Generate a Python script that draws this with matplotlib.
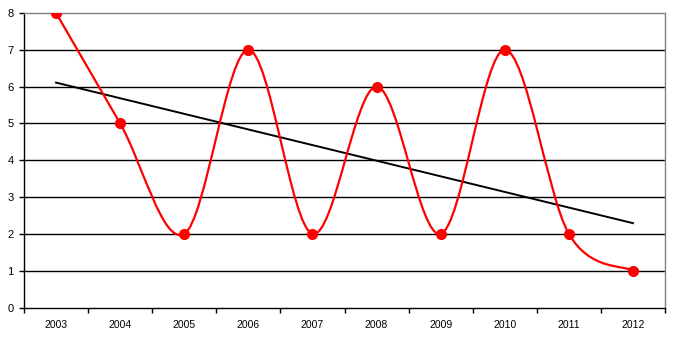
import matplotlib
matplotlib.use('Agg')
import matplotlib.pyplot as plt
from matplotlib.path import Path
from matplotlib.patches import PathPatch
import numpy as np

years = ['2003', '2004', '2005', '2006', '2007', '2008', '2009', '2010', '2011', '2012']
values = [8, 5, 2, 7, 2, 6, 2, 7, 2, 1]

plt.rcParams['font.family'] = ['Liberation Sans', 'DejaVu Sans']

xs = np.arange(len(years))
ys = np.array(values, dtype=float)

fig = plt.figure(figsize=(6.75, 3.4), dpi=100)
ax = fig.add_axes([24/675, 1 - 307.5/340, (665 - 24)/675, (307.5 - 13)/340])

# horizontal gridlines
for v in range(1, 8):
    ax.axhline(v, color='black', lw=1.0, zorder=1)

# smoothed line: cubic bezier segments, catmull-rom style tangents
pts = np.column_stack([xs, ys])
ext = np.vstack([pts[0], pts, pts[-1]])
verts = [tuple(pts[0])]
codes = [Path.MOVETO]
for i in range(len(pts) - 1):
    p0, p1, p2, p3 = ext[i], ext[i + 1], ext[i + 2], ext[i + 3]
    c1 = p1 + (p2 - p0) / 6.0
    c2 = p2 - (p3 - p1) / 6.0
    verts += [tuple(c1), tuple(c2), tuple(p2)]
    codes += [Path.CURVE4] * 3
ax.add_patch(PathPatch(Path(verts, codes), fill=False, edgecolor='#ff0000',
                       lw=1.6, zorder=3))
ax.plot(xs, ys, 'o', color='#ff0000', ms=7, zorder=4)

# linear trend
k, b = np.polyfit(xs, ys, 1)
ax.plot(xs, k * xs + b, color='black', lw=1.4, zorder=2)

ax.set_xlim(-0.5, len(years) - 0.5)
ax.set_ylim(0, 8)
ax.set_yticks(range(0, 9))
ax.set_xticks(xs)
ax.set_xticklabels(years)
ax.set_xticks(np.arange(-0.5, len(years), 1.0), minor=True)
ax.tick_params(axis='x', which='major', length=0, labelsize=7.5, pad=9)
ax.tick_params(axis='x', which='minor', length=3.5, width=1, direction='out')
ax.tick_params(axis='y', length=3.5, width=1, direction='out', labelsize=8, pad=4)

for side in ['top', 'right']:
    ax.spines[side].set_color('#808080')
    ax.spines[side].set_linewidth(1)
for side in ['left', 'bottom']:
    ax.spines[side].set_color('black')
    ax.spines[side].set_linewidth(1)

fig.savefig('out.png', dpi=100)
